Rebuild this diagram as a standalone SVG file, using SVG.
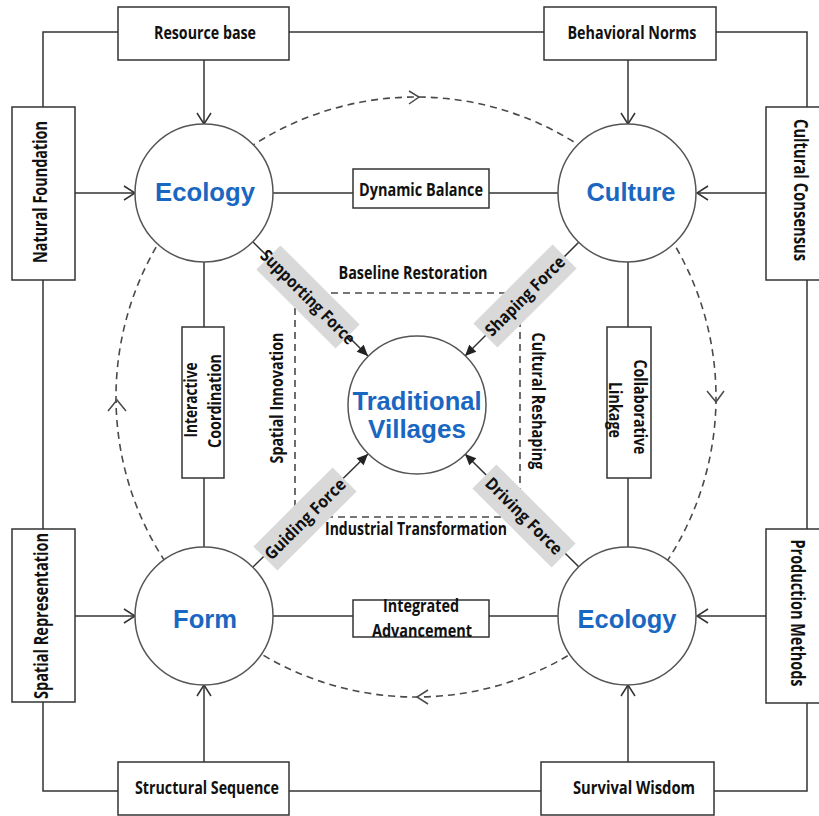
<svg xmlns="http://www.w3.org/2000/svg" width="819" height="816" viewBox="0 0 819 816">
  <style>
    .box { fill: #ffffff; stroke: #333333; stroke-width: 1.5; }
    .node { fill: #ffffff; stroke: #555555; stroke-width: 1.5; }
    .line { fill: none; stroke: #333333; stroke-width: 1.5; }
    .dash { fill: none; stroke: #4a4a4a; stroke-width: 1.6; stroke-dasharray: 7 5; }
    .chev { fill: none; stroke: #4a4a4a; stroke-width: 1.5; }
    .band { fill: #d9d9d9; }
    .lbl { font-family: "Open Sans", "Liberation Sans", sans-serif; font-weight: 700; font-size: 18px; fill: #111111; }
    .side { font-size: 19px; }
    .inner { font-size: 17px; }
    .title { font-family: "Liberation Sans", Arial, sans-serif; font-weight: bold; font-size: 26px; fill: #1a67c2; }
  </style>
  <defs>
    <marker id="open" viewBox="-13 -8 15 16" refX="0" refY="0" markerWidth="15" markerHeight="16" markerUnits="userSpaceOnUse" orient="auto">
      <path d="M-11,-7 L0,0 L-11,7" fill="none" stroke="#333333" stroke-width="1.5"/>
    </marker>
    <marker id="solid" viewBox="-12 -6 13 12" refX="0" refY="0" markerWidth="13" markerHeight="12" markerUnits="userSpaceOnUse" orient="auto">
      <path d="M-11,-5 L0,0 L-11,5 z" fill="#222222"/>
    </marker>
  </defs>

  <!-- connectors -->
  <g id="connectors">
    <!-- outer frame linking the eight factor boxes -->
    <rect x="43" y="32" width="764" height="759" class="line"/>
    <!-- clockwise dashed cycle through the four dimensions -->
    <circle cx="416" cy="397" r="300" class="dash"/>
    <path class="chev" d="M409,91 L419,97 L409,104"/>
    <path class="chev" d="M707,391 L716,402 L724,391"/>
    <path class="chev" d="M428,690 L417,697 L428,704"/>
    <path class="chev" d="M108,411 L117,400 L126,411"/>
    <!-- inner dashed square -->
    <rect x="295" y="293" width="225" height="224" class="dash"/>
    <!-- factor inputs -->
    <line class="line" x1="204" y1="60" x2="204" y2="124" marker-end="url(#open)"/>
    <line class="line" x1="75" y1="193" x2="135" y2="193" marker-end="url(#open)"/>
    <line class="line" x1="628" y1="60" x2="628" y2="124" marker-end="url(#open)"/>
    <line class="line" x1="766" y1="193" x2="697" y2="193" marker-end="url(#open)"/>
    <line class="line" x1="75" y1="616" x2="135" y2="616" marker-end="url(#open)"/>
    <line class="line" x1="204" y1="762" x2="204" y2="685" marker-end="url(#open)"/>
    <line class="line" x1="628" y1="762" x2="628" y2="685" marker-end="url(#open)"/>
    <line class="line" x1="766" y1="616" x2="697" y2="616" marker-end="url(#open)"/>
    <!-- links between neighbouring dimensions -->
    <line class="line" x1="273" y1="193" x2="353" y2="193"/>
    <line class="line" x1="489" y1="193" x2="558" y2="193"/>
    <line class="line" x1="273" y1="616" x2="353" y2="616"/>
    <line class="line" x1="489" y1="616" x2="558" y2="616"/>
    <line class="line" x1="204" y1="262" x2="204" y2="327"/>
    <line class="line" x1="204" y1="478" x2="204" y2="547"/>
    <line class="line" x1="628" y1="262" x2="628" y2="327"/>
    <line class="line" x1="628" y1="478" x2="628" y2="547"/>
    <!-- forces acting on the villages -->
    <line class="line" x1="253" y1="242" x2="368" y2="356" marker-end="url(#solid)"/>
    <line class="line" x1="579" y1="242" x2="465" y2="356" marker-end="url(#solid)"/>
    <line class="line" x1="253" y1="567" x2="368" y2="454" marker-end="url(#solid)"/>
    <line class="line" x1="579" y1="567" x2="465" y2="454" marker-end="url(#solid)"/>
  </g>

  <!-- force labels -->
  <g id="supporting-force" transform="translate(308,297) rotate(45)">
    <rect class="band" x="-56" y="-17" width="112" height="34"/>
    <text class="lbl inner" x="0" y="6" text-anchor="middle" textLength="126" lengthAdjust="spacingAndGlyphs">Supporting Force</text>
  </g>
  <g id="shaping-force" transform="translate(525,296) rotate(-45)">
    <rect class="band" x="-56" y="-17" width="112" height="34"/>
    <text class="lbl inner" x="0" y="6" text-anchor="middle" textLength="105" lengthAdjust="spacingAndGlyphs">Shaping Force</text>
  </g>
  <g id="guiding-force" transform="translate(305,519) rotate(-45)">
    <rect class="band" x="-56" y="-17" width="112" height="34"/>
    <text class="lbl inner" x="0" y="6" text-anchor="middle" textLength="107" lengthAdjust="spacingAndGlyphs">Guiding Force</text>
  </g>
  <g id="driving-force" transform="translate(524,516) rotate(45)">
    <rect class="band" x="-56" y="-17" width="112" height="34"/>
    <text class="lbl inner" x="0" y="6" text-anchor="middle" textLength="101" lengthAdjust="spacingAndGlyphs">Driving Force</text>
  </g>

  <!-- transformation paths around the centre -->
  <g id="paths">
    <text class="lbl inner" x="413" y="279" text-anchor="middle" textLength="149" lengthAdjust="spacingAndGlyphs">Baseline Restoration</text>
    <text class="lbl inner" x="416" y="535" text-anchor="middle" textLength="182" lengthAdjust="spacingAndGlyphs">Industrial Transformation</text>
    <text class="lbl inner" transform="translate(283,398) rotate(-90)" text-anchor="middle" textLength="131" lengthAdjust="spacingAndGlyphs">Spatial Innovation</text>
    <text class="lbl inner" transform="translate(532,401) rotate(90)" text-anchor="middle" textLength="137" lengthAdjust="spacingAndGlyphs">Cultural Reshaping</text>
  </g>

  <!-- dimensions -->
  <g id="ecology">
    <circle class="node" cx="204" cy="193" r="69"/>
    <text class="title" x="205" y="201" text-anchor="middle" textLength="100" lengthAdjust="spacingAndGlyphs">Ecology</text>
  </g>
  <g id="culture">
    <circle class="node" cx="627" cy="193" r="69"/>
    <text class="title" x="631" y="201" text-anchor="middle" textLength="89" lengthAdjust="spacingAndGlyphs">Culture</text>
  </g>
  <g id="form">
    <circle class="node" cx="204" cy="616" r="69"/>
    <text class="title" x="205" y="628" text-anchor="middle" textLength="64" lengthAdjust="spacingAndGlyphs">Form</text>
  </g>
  <g id="ecology-2">
    <circle class="node" cx="627" cy="616" r="69"/>
    <text class="title" x="627" y="628" text-anchor="middle" textLength="99" lengthAdjust="spacingAndGlyphs">Ecology</text>
  </g>
  <g id="traditional-villages">
    <circle class="node" cx="417" cy="405" r="69"/>
    <text class="title" x="417" y="410" text-anchor="middle" textLength="129" lengthAdjust="spacingAndGlyphs">Traditional</text>
    <text class="title" x="417" y="438" text-anchor="middle" textLength="98" lengthAdjust="spacingAndGlyphs">Villages</text>
  </g>

  <!-- factor boxes -->
  <g id="resource-base">
    <rect class="box" x="118" y="7" width="171" height="53"/>
    <text class="lbl" x="205" y="39" text-anchor="middle" textLength="102" lengthAdjust="spacingAndGlyphs">Resource base</text>
  </g>
  <g id="behavioral-norms">
    <rect class="box" x="544" y="7" width="172" height="53"/>
    <text class="lbl" x="632" y="39" text-anchor="middle" textLength="129" lengthAdjust="spacingAndGlyphs">Behavioral Norms</text>
  </g>
  <g id="natural-foundation">
    <rect class="box" x="12" y="107" width="63" height="173"/>
    <text class="lbl side" transform="translate(47,192) rotate(-90)" text-anchor="middle" textLength="142" lengthAdjust="spacingAndGlyphs">Natural Foundation</text>
  </g>
  <g id="cultural-consensus">
    <rect class="box" x="766" y="107" width="63" height="173"/>
    <text class="lbl side" transform="translate(794,190) rotate(90)" text-anchor="middle" textLength="142" lengthAdjust="spacingAndGlyphs">Cultural Consensus</text>
  </g>
  <g id="spatial-representation">
    <rect class="box" x="12" y="529" width="63" height="173"/>
    <text class="lbl side" transform="translate(48,616) rotate(-90)" text-anchor="middle" textLength="166" lengthAdjust="spacingAndGlyphs">Spatial Representation</text>
  </g>
  <g id="production-methods">
    <rect class="box" x="766" y="529" width="63" height="174"/>
    <text class="lbl side" transform="translate(791,613) rotate(90)" text-anchor="middle" textLength="147" lengthAdjust="spacingAndGlyphs">Production Methods</text>
  </g>
  <g id="structural-sequence">
    <rect class="box" x="118" y="762" width="171" height="53"/>
    <text class="lbl" x="207" y="794" text-anchor="middle" textLength="144" lengthAdjust="spacingAndGlyphs">Structural Sequence</text>
  </g>
  <g id="survival-wisdom">
    <rect class="box" x="541" y="762" width="173" height="53"/>
    <text class="lbl" x="634" y="794" text-anchor="middle" textLength="122" lengthAdjust="spacingAndGlyphs">Survival Wisdom</text>
  </g>

  <!-- link boxes -->
  <g id="dynamic-balance">
    <rect class="box" x="353" y="169" width="136" height="39"/>
    <text class="lbl" x="421" y="196" text-anchor="middle" textLength="124" lengthAdjust="spacingAndGlyphs">Dynamic Balance</text>
  </g>
  <g id="integrated-advancement">
    <rect class="box" x="353" y="600" width="136" height="37"/>
    <text class="lbl" x="421" y="612" text-anchor="middle" textLength="76" lengthAdjust="spacingAndGlyphs">Integrated</text>
    <text class="lbl" x="422" y="637" text-anchor="middle" textLength="100" lengthAdjust="spacingAndGlyphs">Advancement</text>
  </g>
  <g id="interactive-coordination">
    <rect class="box" x="182" y="327" width="42" height="151"/>
    <text class="lbl" transform="translate(197,400) rotate(-90)" text-anchor="middle" textLength="75" lengthAdjust="spacingAndGlyphs">Interactive</text>
    <text class="lbl" transform="translate(221,401) rotate(-90)" text-anchor="middle" textLength="94" lengthAdjust="spacingAndGlyphs">Coordination</text>
  </g>
  <g id="collaborative-linkage">
    <rect class="box" x="607" y="327" width="44" height="151"/>
    <text class="lbl" transform="translate(634,407) rotate(90)" text-anchor="middle" textLength="95" lengthAdjust="spacingAndGlyphs">Collaborative</text>
    <text class="lbl" transform="translate(609,410) rotate(90)" text-anchor="middle" textLength="56" lengthAdjust="spacingAndGlyphs">Linkage</text>
  </g>
</svg>
